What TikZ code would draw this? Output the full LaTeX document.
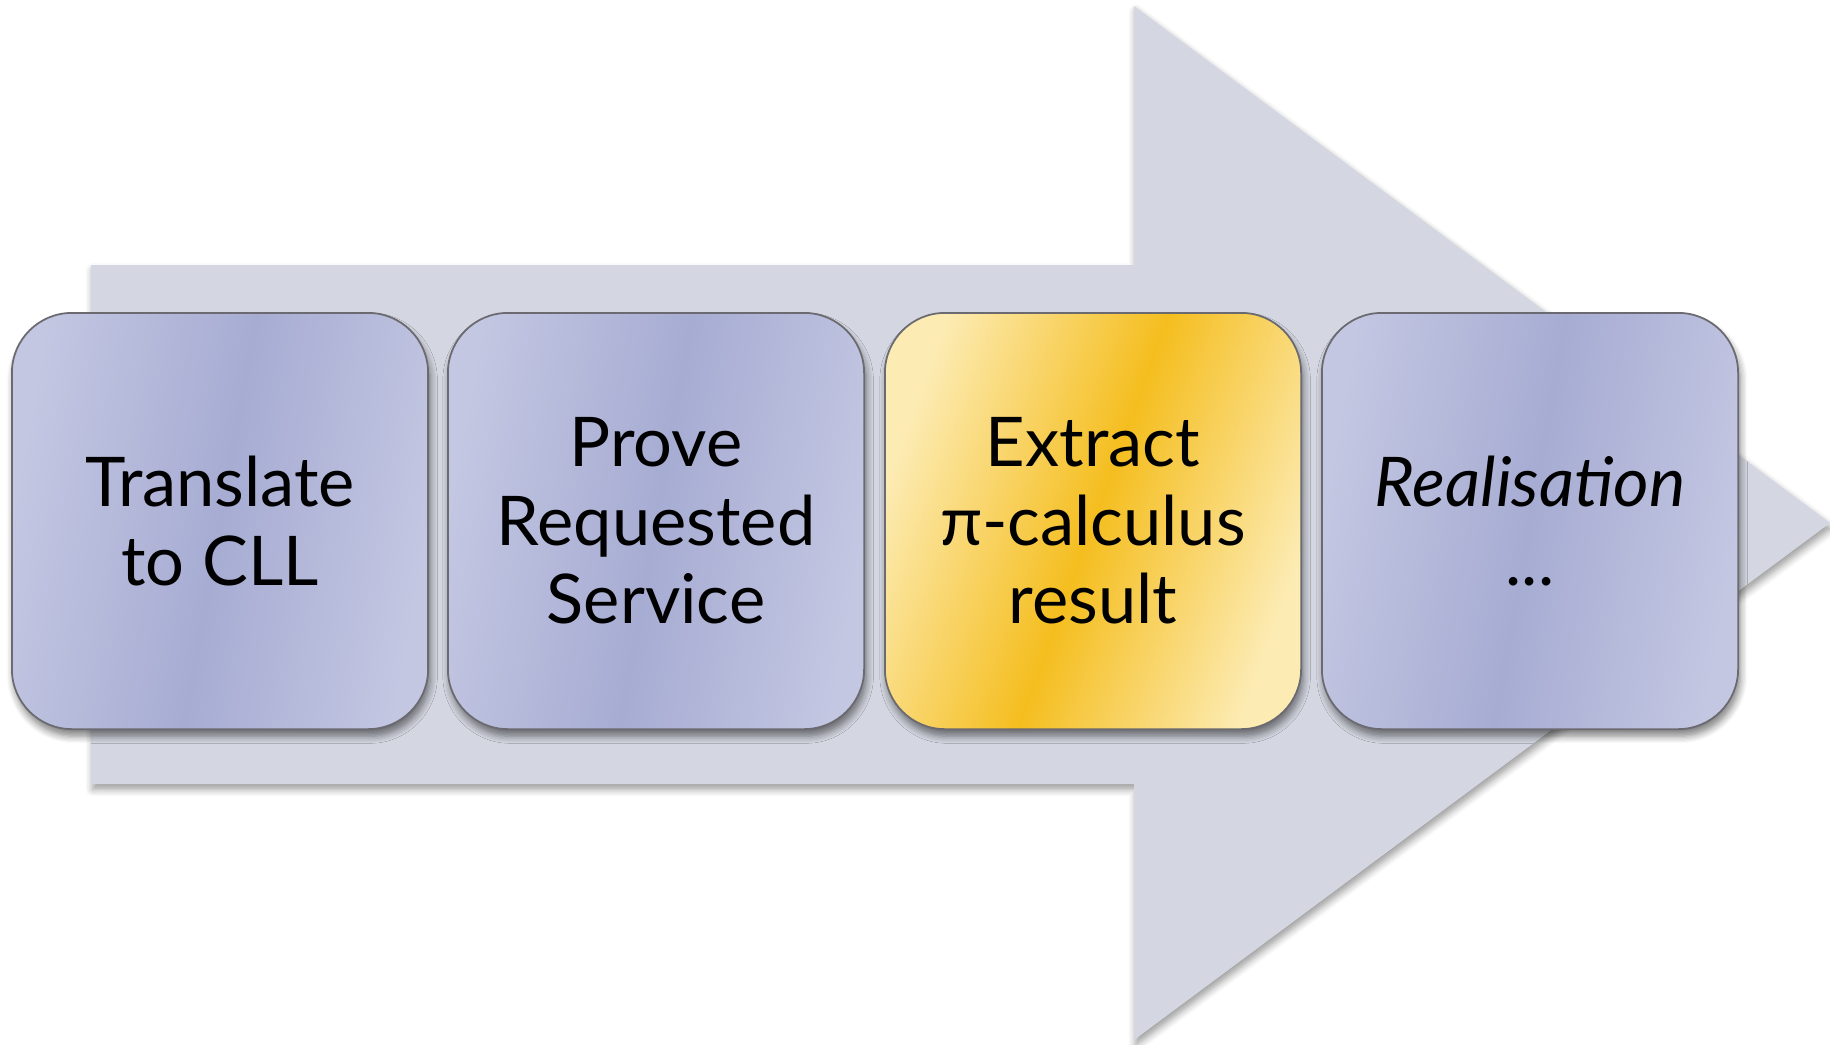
\documentclass[tikz,border=0pt]{standalone}
\usepackage{fontspec}
\setmainfont{Lato}
\usetikzlibrary{shadows.blur}
\definecolor{arrowgray}{HTML}{D4D7E1}
\definecolor{bluelight}{HTML}{C3C7E2}
\definecolor{bluemid}{HTML}{A7ACD3}
\definecolor{goldlight}{HTML}{FCEBB3}
\definecolor{goldmid}{HTML}{F5BE1F}
\definecolor{boxline}{HTML}{6A6A70}
\tikzset{
  stepbox/.style={draw=boxline, line width=0.5pt, rounded corners=0.6cm,
    minimum width=4.16cm, minimum height=4.16cm, inner sep=0pt,
    align=center, font=\fontsize{19.5}{22.3}\selectfont,
    blur shadow={shadow xshift=0.6pt, shadow yshift=-2pt, shadow opacity=50, shadow blur steps=6}},
  bluebox/.style={stepbox, left color=bluelight, right color=bluelight, middle color=bluemid, shading angle=80},
  goldbox/.style={stepbox, left color=goldlight, right color=goldlight, middle color=goldmid, shading angle=70},
}
\begin{document}
\begin{tikzpicture}[x=0.01cm, y=-0.01cm]
\useasboundingbox (0,0) rectangle (1830,1044);
% big arrow
\fill[arrowgray, blur shadow={shadow xshift=0.5pt, shadow yshift=-1.5pt, shadow opacity=40, shadow blur steps=5}]
  (91,265) -- (1134,265) -- (1134,6) -- (1830,523) -- (1134,1040) -- (1134,784) -- (91,784) -- cycle;
% steps
\node[bluebox] (b1) at (220,521) {Translate\\to CLL};
\node[bluebox] (b2) at (656,521) {Prove\\Requested\\Service};
\node[goldbox] (b3) at (1093,521) {Extract\\π-calculus\\result};
\node[bluebox] (b4) at (1530,521) {\itshape Realisation\\...};
\end{tikzpicture}
\end{document}
